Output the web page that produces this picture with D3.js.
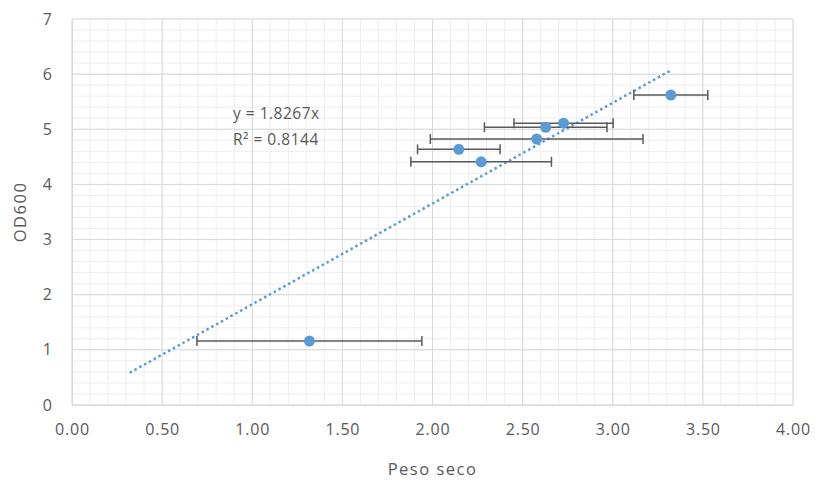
<!DOCTYPE html>
<html>
<head>
<meta charset="utf-8">
<script src="https://cdn.jsdelivr.net/npm/d3@7"></script>
<style>
  html, body { margin: 0; padding: 0; background: #fff; }
  text { font-family: "Open Sans", Lato, sans-serif; fill: #595959; }
</style>
</head>
<body>
<svg id="chart" width="817" height="481"></svg>
<script>
// Dry weight (x), OD600 (y) and horizontal error (± on x)
const pesoSeco = [1.317, 2.146, 2.270, 2.578, 2.628, 2.727, 3.322];
const od600    = [1.16, 4.637, 4.41, 4.824, 5.036, 5.11, 5.62];
const errX     = [0.624, 0.229, 0.39, 0.59, 0.34, 0.275, 0.205];
const xTicks = [0, 0.5, 1, 1.5, 2, 2.5, 3, 3.5, 4];
const yTicks = [0, 1, 2, 3, 4, 5, 6, 7];
const slope = 1.8267;
const r2 = 0.8144;
const trendRange = [0.32, 3.33];

const svg = d3.select("#chart");
const margin = { left: 72, right: 24, top: 19, bottom: 76 };
const W = 817, H = 481;

const x = d3.scaleLinear().domain([0, 4]).range([margin.left, W - margin.right]);
const y = d3.scaleLinear().domain([0, 7]).range([H - margin.bottom, margin.top]);

// minor grid
const g = svg.append("g");
g.selectAll("line.vminor").data(d3.range(0, 4.0001, 0.1)).join("line")
  .attr("x1", d => x(d)).attr("x2", d => x(d))
  .attr("y1", y(0)).attr("y2", y(7))
  .attr("stroke", "#eeeeee").attr("stroke-width", 1);
g.selectAll("line.hminor").data(d3.range(0, 7.0001, 0.2)).join("line")
  .attr("x1", x(0)).attr("x2", x(4))
  .attr("y1", d => y(d)).attr("y2", d => y(d))
  .attr("stroke", "#eeeeee").attr("stroke-width", 1);

// major grid
g.append("g").selectAll("line").data(xTicks).join("line")
  .attr("x1", d => x(d)).attr("x2", d => x(d))
  .attr("y1", y(0)).attr("y2", y(7))
  .attr("stroke", "#d9d9d9").attr("stroke-width", 1);
g.append("g").selectAll("line").data(yTicks).join("line")
  .attr("x1", x(0)).attr("x2", x(4))
  .attr("y1", d => y(d)).attr("y2", d => y(d))
  .attr("stroke", "#d9d9d9").attr("stroke-width", 1);

// axes (labels only)
const xAxis = d3.axisBottom(x).tickValues(xTicks).tickFormat(d3.format(".2f")).tickSize(0).tickPadding(19);
const ax = svg.append("g").attr("transform", `translate(0,${y(0)})`).call(xAxis);
ax.select(".domain").attr("stroke", "#d9d9d9");
ax.selectAll("text").style("font-size", "16px").style("letter-spacing", "0.8px").attr("fill", "#595959");

const yAxis = d3.axisLeft(y).tickValues(yTicks).tickFormat(d3.format("d")).tickSize(0).tickPadding(20);
const ay = svg.append("g").attr("transform", `translate(${x(0)},0)`).call(yAxis);
ay.select(".domain").attr("stroke", "#d9d9d9");
ay.selectAll("text").style("font-size", "16px").attr("fill", "#595959");

// trendline
svg.append("line")
  .attr("x1", x(trendRange[0])).attr("y1", y(slope * trendRange[0]))
  .attr("x2", x(trendRange[1])).attr("y2", y(slope * trendRange[1]))
  .attr("stroke", "#5b9bd5").attr("stroke-width", 2.5)
  .attr("stroke-dasharray", "2.5,3");

// error bars
const eb = svg.append("g").attr("stroke", "#595959").attr("stroke-width", 1.5);
pesoSeco.forEach((px, i) => {
  const yy = y(od600[i]);
  eb.append("line").attr("x1", x(px - errX[i])).attr("x2", x(px + errX[i])).attr("y1", yy).attr("y2", yy);
  eb.append("line").attr("x1", x(px - errX[i])).attr("x2", x(px - errX[i])).attr("y1", yy - 5).attr("y2", yy + 5);
  eb.append("line").attr("x1", x(px + errX[i])).attr("x2", x(px + errX[i])).attr("y1", yy - 5).attr("y2", yy + 5);
});

// points
svg.append("g").selectAll("circle").data(pesoSeco).join("circle")
  .attr("cx", d => x(d)).attr("cy", (d, i) => y(od600[i]))
  .attr("r", 5.5).attr("fill", "#5b9bd5");

// equation label
const eq = svg.append("g").style("font-size", "15.5px").style("letter-spacing", "0.5px");
eq.append("text").attr("x", 233).attr("y", 119).text(`y = ${slope}x`);
eq.append("text").attr("x", 233).attr("y", 145).text(`R² = ${r2}`);

// axis titles
svg.append("text").attr("x", (x(0) + x(4)) / 2).attr("y", 475).attr("text-anchor", "middle")
  .style("font-size", "16.5px").style("letter-spacing", "1.5px").text("Peso seco");
svg.append("text").attr("transform", `translate(26,${(y(0) + y(7)) / 2}) rotate(-90)`)
  .attr("text-anchor", "middle").style("font-size", "16.5px").style("letter-spacing", "1.5px").text("OD600");
</script>
</body>
</html>
